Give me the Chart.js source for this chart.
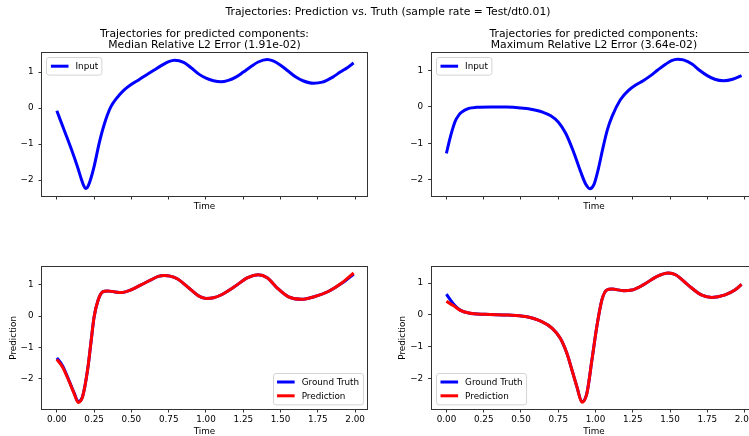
<!DOCTYPE html>
<html lang="en">
  <head>
    <meta charset="UTF-8" />
    <title>Trajectories: Prediction vs. Truth</title>
    <script src="https://cdn.jsdelivr.net/npm/chart.js"></script>
    <style>
      html,
      body {
        margin: 0;
        padding: 0;
        background: #fff;
        width: 749px;
        height: 436px;
        overflow: hidden;
      }
      body {
        position: relative;
        font-family: "DejaVu Sans", sans-serif;
      }
      canvas {
        position: absolute;
      }
      #suptitle {
        position: absolute;
        left: 0;
        top: 5px;
        width: 776px;
        text-align: center;
        font-size: 10.8px;
        line-height: 13px;
        color: #000;
        z-index: 2;
      }
    </style>
  </head>
  <body>
    <canvas id="tl" width="375" height="230" style="left: 0; top: 0"></canvas>
    <canvas id="tr" width="400" height="230" style="left: 375px; top: 0"></canvas>
    <canvas id="bl" width="375" height="210" style="left: 0; top: 230px"></canvas>
    <canvas id="br" width="400" height="210" style="left: 375px; top: 230px"></canvas>
    <div id="suptitle">Trajectories: Prediction vs. Truth (sample rate = Test/dt0.01)</div>

    <script>
      // values
      const xTicks = [0, 0.25, 0.5, 0.75, 1.0, 1.25, 1.5, 1.75, 2.0];
      const yTicks = [-2, -1, 0, 1];

      const tlTime = [0, 0.05, 0.1, 0.14, 0.165, 0.18, 0.192, 0.205, 0.22, 0.25, 0.284, 0.317, 0.36, 0.4, 0.45, 0.5, 0.55, 0.6, 0.65, 0.7, 0.75, 0.79, 0.85, 0.9, 0.95, 1.0, 1.05, 1.1, 1.15, 1.2, 1.25, 1.3, 1.35, 1.41, 1.45, 1.5, 1.55, 1.6, 1.65, 1.72, 1.78, 1.85, 1.9, 1.95, 1.99];
      const tlInput = [-0.075, -0.62, -1.17, -1.65, -1.98, -2.15, -2.23, -2.2, -2.06, -1.62, -0.97, -0.46, 0.02, 0.27, 0.5, 0.66, 0.79, 0.92, 1.05, 1.18, 1.29, 1.33, 1.27, 1.12, 0.95, 0.83, 0.76, 0.73, 0.77, 0.86, 1.0, 1.15, 1.28, 1.35, 1.31, 1.19, 1.03, 0.87, 0.76, 0.69, 0.72, 0.86, 1.0, 1.13, 1.25];

      const trTime = [0, 0.02, 0.04, 0.06, 0.08, 0.1, 0.15, 0.2, 0.3, 0.4, 0.45, 0.5, 0.55, 0.6, 0.65, 0.7, 0.75, 0.8, 0.85, 0.9, 0.935, 0.962, 0.99, 1.02, 1.05, 1.08, 1.112, 1.167, 1.22, 1.27, 1.32, 1.37, 1.42, 1.47, 1.51, 1.55, 1.59, 1.65, 1.7, 1.75, 1.8, 1.86, 1.92, 1.98];
      const trInput = [-1.27, -0.92, -0.62, -0.38, -0.24, -0.15, -0.04, -0.01, 0.0, 0.0, -0.01, -0.03, -0.05, -0.09, -0.15, -0.24, -0.41, -0.72, -1.2, -1.77, -2.12, -2.24, -2.12, -1.68, -1.12, -0.62, -0.25, 0.2, 0.45, 0.6, 0.72, 0.86, 1.02, 1.17, 1.27, 1.31, 1.29, 1.17, 1.0, 0.86, 0.76, 0.72, 0.76, 0.86];

      const blTime = [0, 0.038, 0.083, 0.116, 0.143, 0.172, 0.206, 0.228, 0.25, 0.277, 0.307, 0.34, 0.385, 0.44, 0.497, 0.564, 0.631, 0.68, 0.72, 0.76, 0.81, 0.9, 0.95, 1.0, 1.05, 1.1, 1.19, 1.28, 1.35, 1.41, 1.48, 1.55, 1.64, 1.73, 1.82, 1.91, 1.99];
      const blTruth = [-1.33, -1.58, -2.07, -2.45, -2.72, -2.57, -1.72, -0.87, -0.02, 0.51, 0.77, 0.8, 0.77, 0.75, 0.83, 0.99, 1.15, 1.26, 1.29, 1.27, 1.18, 0.83, 0.64, 0.56, 0.58, 0.67, 0.93, 1.22, 1.31, 1.22, 0.88, 0.62, 0.53, 0.62, 0.78, 1.04, 1.33];
      const blPred = [-1.38, -1.62, -2.09, -2.47, -2.75, -2.58, -1.72, -0.87, -0.02, 0.51, 0.77, 0.8, 0.77, 0.75, 0.83, 0.99, 1.15, 1.26, 1.29, 1.27, 1.18, 0.83, 0.64, 0.56, 0.58, 0.67, 0.93, 1.22, 1.31, 1.22, 0.88, 0.62, 0.53, 0.62, 0.78, 1.05, 1.37];

      const brTime = [0, 0.03, 0.06, 0.09, 0.15, 0.26, 0.417, 0.53, 0.64, 0.71, 0.764, 0.808, 0.842, 0.875, 0.909, 0.942, 0.976, 1.009, 1.043, 1.076, 1.11, 1.188, 1.244, 1.32, 1.41, 1.49, 1.54, 1.62, 1.71, 1.78, 1.87, 1.935, 1.98];
      const brTruth = [0.65, 0.45, 0.28, 0.16, 0.06, 0.02, 0.0, -0.05, -0.21, -0.42, -0.73, -1.2, -1.72, -2.24, -2.71, -2.45, -1.41, -0.36, 0.47, 0.78, 0.81, 0.76, 0.78, 0.94, 1.2, 1.31, 1.25, 0.94, 0.63, 0.55, 0.63, 0.78, 0.96];
      const brPred = [0.43, 0.34, 0.25, 0.15, 0.06, 0.02, 0.0, -0.05, -0.21, -0.42, -0.73, -1.2, -1.72, -2.24, -2.73, -2.46, -1.41, -0.36, 0.47, 0.78, 0.81, 0.76, 0.78, 0.94, 1.2, 1.31, 1.25, 0.94, 0.63, 0.55, 0.63, 0.78, 0.96];

      const FONT = "DejaVu Sans";
      Chart.defaults.font.family = FONT;
      Chart.defaults.color = "#000";

      const points = (xs, ys) => xs.map((x, i) => ({ x: x, y: ys[i] }));

      function line(label, xs, ys, color, order) {
        return {
          label: label,
          data: points(xs, ys),
          borderColor: color,
          backgroundColor: color,
          borderWidth: 3,
          pointRadius: 0,
          cubicInterpolationMode: "monotone",
          order: order,
        };
      }

      // full box round the axes, like matplotlib spines
      const frame = {
        id: "frame",
        afterDatasetsDraw(chart) {
          const { ctx, chartArea: a } = chart;
          ctx.save();
          ctx.strokeStyle = "#333";
          ctx.lineWidth = 1;
          ctx.strokeRect(
            Math.round(a.left) - 0.5,
            Math.round(a.top) - 0.5,
            Math.round(a.right - a.left) + 1,
            Math.round(a.bottom - a.top) + 1
          );
          ctx.restore();
        },
      };

      // legend drawn inside the plot area
      const insideLegend = {
        id: "insideLegend",
        afterDraw(chart, args, o) {
          const { ctx, chartArea: a } = chart;
          const items = chart.data.datasets;
          const fs = 8.8, pad = 3.5, padV = 3.4, handle = 17.6, gap = 7;
          const lineH = 10.8, rowH = 13.8, inset = 4.4;
          ctx.save();
          ctx.font = fs + 'px "' + FONT + '"';
          const textW = Math.max(...items.map((d) => ctx.measureText(d.label).width));
          const w = pad + handle + gap + textW + pad + 1;
          const h = padV * 2 + lineH + rowH * (items.length - 1);
          let x0 = a.left + inset;
          let y0 = a.top + inset;
          if (o.corner === "br") {
            x0 = a.right - inset - w;
            y0 = a.bottom - inset - h;
          } else if (o.corner === "bl") {
            y0 = a.bottom - inset - h;
          }
          ctx.beginPath();
          ctx.roundRect(Math.round(x0) + 0.5, Math.round(y0) + 0.5, w, h, 2.5);
          ctx.fillStyle = "rgba(255,255,255,0.8)";
          ctx.fill();
          ctx.strokeStyle = "#d4d4d4";
          ctx.lineWidth = 1;
          ctx.stroke();
          items.forEach((d, i) => {
            const cy = y0 + padV + lineH / 2 + i * rowH;
            ctx.strokeStyle = d.borderColor;
            ctx.lineWidth = 3;
            ctx.beginPath();
            ctx.moveTo(x0 + pad + 1, cy);
            ctx.lineTo(x0 + pad + 1 + handle, cy);
            ctx.stroke();
            ctx.fillStyle = "#000";
            ctx.textBaseline = "middle";
            ctx.textAlign = "left";
            ctx.fillText(d.label, x0 + pad + 1 + handle + gap, cy + 0.5);
          });
          ctx.restore();
        },
      };

      const tickGrid = {
        display: true,
        drawOnChartArea: false,
        drawTicks: true,
        tickLength: 3.5,
        color: "#333",
        lineWidth: 1,
      };

      function makeChart(id, c) {
        return new Chart(document.getElementById(id), {
          type: "line",
          data: { datasets: c.datasets },
          options: {
            responsive: false,
            animation: false,
            events: [],
            layout: { padding: c.padding },
            plugins: {
              legend: { display: false },
              tooltip: { enabled: false },
              title: c.title
                ? {
                    display: true,
                    text: c.title,
                    fullSize: false,
                    color: "#000",
                    font: { size: 10.8, weight: "normal", lineHeight: 1.0 },
                    padding: { top: 28.6, bottom: 2.8 },
                  }
                : { display: false },
              insideLegend: { corner: c.corner },
            },
            scales: {
              x: {
                type: "linear",
                min: -0.0995,
                max: 2.0795,
                afterFit: (s) => {
                  s.height = c.xHeight;
                },
                afterBuildTicks: (s) => {
                  s.ticks = xTicks.map((v) => ({ value: v }));
                },
                grid: tickGrid,
                border: { display: false },
                ticks: {
                  autoSkip: false,
                  maxRotation: 0,
                  padding: 1.5,
                  font: { size: 8.8 },
                  callback: (v) => (c.xLabels ? Number(v).toFixed(2) : ""),
                },
                title: {
                  display: true,
                  text: "Time",
                  font: { size: 8.8 },
                  padding: { top: 0, bottom: c.xTitlePad },
                },
              },
              y: {
                type: "linear",
                min: c.yRange[0],
                max: c.yRange[1],
                afterFit: (s) => {
                  s.width = c.yWidth;
                },
                afterBuildTicks: (s) => {
                  s.ticks = yTicks.map((v) => ({ value: v }));
                },
                grid: tickGrid,
                border: { display: false },
                ticks: {
                  padding: 5,
                  font: { size: 8.8 },
                  callback: (v) => (v < 0 ? "\u2212" + Math.abs(v) : String(v)),
                },
                title: c.yTitle
                  ? {
                      display: true,
                      text: c.yTitle,
                      font: { size: 8.8 },
                      padding: { top: c.yTitlePad, bottom: 0 },
                    }
                  : { display: false },
              },
            },
          },
          plugins: [frame, insideLegend],
        });
      }

      makeChart("tl", {
        datasets: [line("Input", tlTime, tlInput, "#0000ff", 0)],
        title: ["Trajectories for predicted components:", "Median Relative L2 Error (1.91e-02)"],
        padding: { left: 0, right: 8, top: 0, bottom: 0 },
        yWidth: 42,
        xHeight: 34,
        xTitlePad: 18,
        xLabels: false,
        yRange: [-2.44, 1.53],
        corner: "tl",
      });

      makeChart("tr", {
        datasets: [line("Input", trTime, trInput, "#0000ff", 0)],
        title: ["Trajectories for predicted components:", "Maximum Relative L2 Error (3.64e-02)"],
        padding: { left: 0, right: 18.6, top: 0, bottom: 0 },
        yWidth: 56.6,
        xHeight: 34,
        xTitlePad: 18,
        xLabels: false,
        yRange: [-2.44, 1.48],
        corner: "tl",
      });

      makeChart("bl", {
        datasets: [
          line("Ground Truth", blTime, blTruth, "#0000ff", 1),
          line("Prediction", blTime, blPred, "#ff0000", 0),
        ],
        padding: { left: 0, right: 8, top: 36.7, bottom: 0 },
        yWidth: 42,
        xHeight: 31,
        xTitlePad: 2.7,
        xLabels: true,
        yRange: [-2.96, 1.57],
        yTitle: "Prediction",
        yTitlePad: 8,
        corner: "br",
      });

      makeChart("br", {
        datasets: [
          line("Ground Truth", brTime, brTruth, "#0000ff", 1),
          line("Prediction", brTime, brPred, "#ff0000", 0),
        ],
        padding: { left: 0, right: 18.6, top: 36.7, bottom: 0 },
        yWidth: 56.6,
        xHeight: 31,
        xTitlePad: 2.7,
        xLabels: true,
        yRange: [-2.94, 1.51],
        yTitle: "Prediction",
        yTitlePad: 22.4,
        corner: "bl",
      });
    </script>
  </body>
</html>
